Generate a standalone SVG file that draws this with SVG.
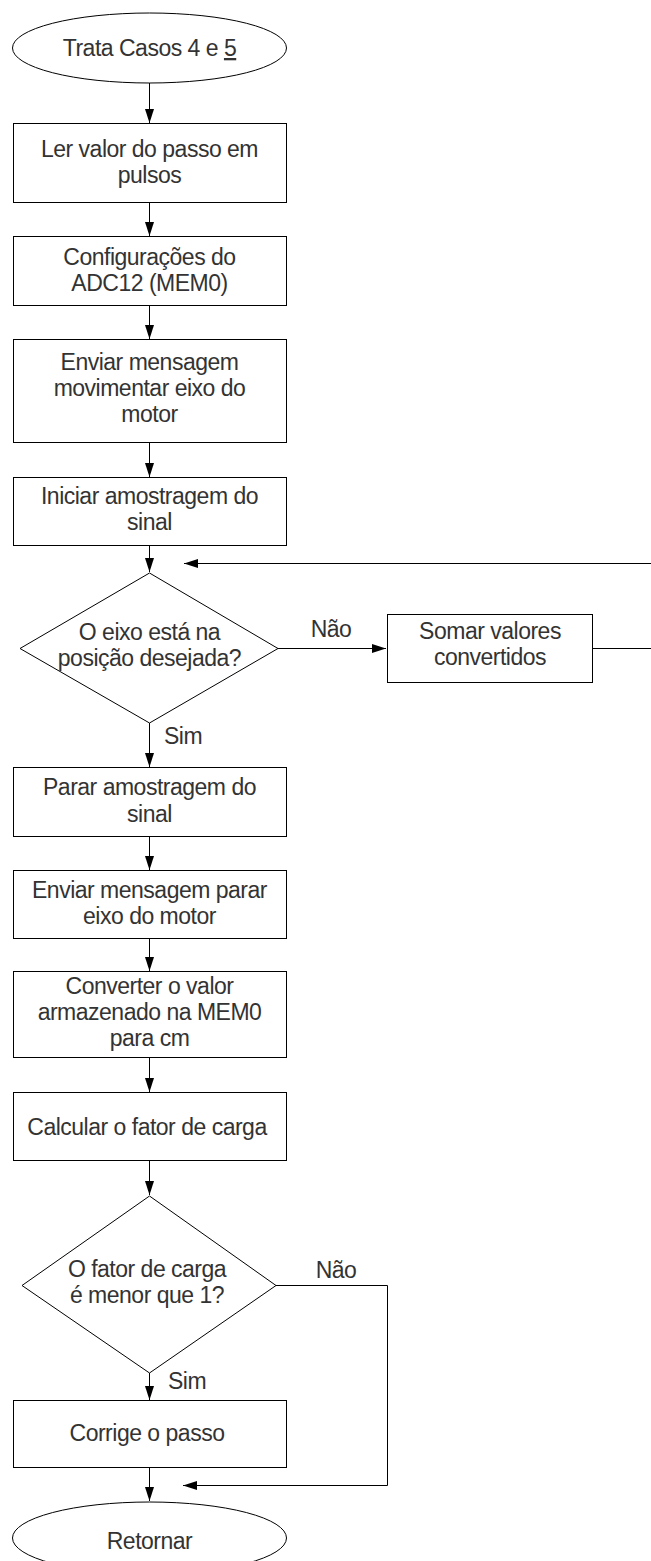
<svg xmlns="http://www.w3.org/2000/svg" width="651" height="1561" viewBox="0 0 651 1561">
<style>
.s{fill:#fff;stroke:#000;stroke-width:1}
.t{font-family:"Liberation Sans",Arial,sans-serif;font-size:23px;letter-spacing:-0.5px;fill:#333;text-anchor:middle}
.l{font-family:"Liberation Sans",Arial,sans-serif;font-size:23px;letter-spacing:-0.5px;fill:#333}
.c{fill:none;stroke:#000;stroke-width:1}
</style>
<defs>
<marker id="a" markerUnits="userSpaceOnUse" markerWidth="15" markerHeight="10" refX="14" refY="4.5" orient="auto">
<path d="M0,0 L14,4.5 L0,9 z" fill="#000"/>
</marker>
</defs>
<rect width="651" height="1561" fill="#fff"/>
<g id="connectors">
<path class="c" d="M149.5,83 V123" marker-end="url(#a)"/>
<path class="c" d="M149.5,203 V236" marker-end="url(#a)"/>
<path class="c" d="M149.5,306 V339" marker-end="url(#a)"/>
<path class="c" d="M149.5,443 V477" marker-end="url(#a)"/>
<path class="c" d="M149.5,546 V572" marker-end="url(#a)"/>
<path class="c" d="M278,648.5 H386" marker-end="url(#a)"/>
<path class="c" d="M592,648.5 H660 V563.5 H184" marker-end="url(#a)"/>
<path class="c" d="M149.5,723 V767" marker-end="url(#a)"/>
<path class="c" d="M149.5,837 V870" marker-end="url(#a)"/>
<path class="c" d="M149.5,939 V971" marker-end="url(#a)"/>
<path class="c" d="M149.5,1058 V1092" marker-end="url(#a)"/>
<path class="c" d="M149.5,1161 V1195" marker-end="url(#a)"/>
<path class="c" d="M149.5,1373 V1400" marker-end="url(#a)"/>
<path class="c" d="M149.5,1468 V1501" marker-end="url(#a)"/>
<path class="c" d="M276,1285.5 H387.5 V1485.5 H183" marker-end="url(#a)"/>
<text class="l" x="331" y="637" text-anchor="middle">Não</text>
<text class="l" x="164" y="744">Sim</text>
<text class="l" x="336" y="1278" text-anchor="middle">Não</text>
<text class="l" x="168" y="1389">Sim</text>
</g>
<g id="start">
<ellipse class="s" cx="149.5" cy="48" rx="137" ry="35"/>
<text class="t" x="149.5" y="56">Trata Casos 4 e <tspan text-decoration="underline">5</tspan></text>
</g>
<g id="n1">
<rect class="s" x="13.5" y="123.5" width="273" height="79"/>
<text class="t" x="149.5" y="157">Ler valor do passo em</text>
<text class="t" x="149.5" y="183">pulsos</text>
</g>
<g id="n2">
<rect class="s" x="13.5" y="236.5" width="273" height="69"/>
<text class="t" x="149.5" y="265">Configurações do</text>
<text class="t" x="149.5" y="291">ADC12 (MEM0)</text>
</g>
<g id="n3">
<rect class="s" x="13.5" y="339.5" width="273" height="103"/>
<text class="t" x="149.5" y="370">Enviar mensagem</text>
<text class="t" x="149.5" y="396">movimentar eixo do</text>
<text class="t" x="149.5" y="422">motor</text>
</g>
<g id="n4">
<rect class="s" x="13.5" y="477.5" width="273" height="68"/>
<text class="t" x="149.5" y="504">Iniciar amostragem do</text>
<text class="t" x="149.5" y="530">sinal</text>
</g>
<g id="d1">
<polygon class="s" points="149.5,573 278,648.5 149.5,723 20,648.5"/>
<text class="t" x="149.5" y="640">O eixo está na</text>
<text class="t" x="149.5" y="666">posição desejada?</text>
</g>
<g id="n5">
<rect class="s" x="387.5" y="614.5" width="205" height="68"/>
<text class="t" x="490" y="639">Somar valores</text>
<text class="t" x="490" y="665">convertidos</text>
</g>
<g id="n6">
<rect class="s" x="13.5" y="767.5" width="273" height="69"/>
<text class="t" x="149.5" y="795">Parar amostragem do</text>
<text class="t" x="149.5" y="822">sinal</text>
</g>
<g id="n7">
<rect class="s" x="13.5" y="870.5" width="273" height="68"/>
<text class="t" x="149.5" y="898">Enviar mensagem parar</text>
<text class="t" x="149.5" y="924">eixo do motor</text>
</g>
<g id="n8">
<rect class="s" x="13.5" y="971.5" width="273" height="86"/>
<text class="t" x="149.5" y="994">Converter o valor</text>
<text class="t" x="149.5" y="1020">armazenado na MEM0</text>
<text class="t" x="149.5" y="1046">para cm</text>
</g>
<g id="n9">
<rect class="s" x="13.5" y="1092.5" width="273" height="68"/>
<text class="t" x="147" y="1135">Calcular o fator de carga</text>
</g>
<g id="d2">
<polygon class="s" points="149.5,1196 276,1285.5 149.5,1373 22,1285.5"/>
<text class="t" x="147" y="1277">O fator de carga</text>
<text class="t" x="147" y="1303">é menor que 1?</text>
</g>
<g id="n10">
<rect class="s" x="13.5" y="1400.5" width="273" height="67"/>
<text class="t" x="147" y="1441">Corrige o passo</text>
</g>
<g id="end">
<ellipse class="s" cx="149.5" cy="1538" rx="137" ry="36"/>
<text class="t" x="149.5" y="1549">Retornar</text>
</g>
</svg>
